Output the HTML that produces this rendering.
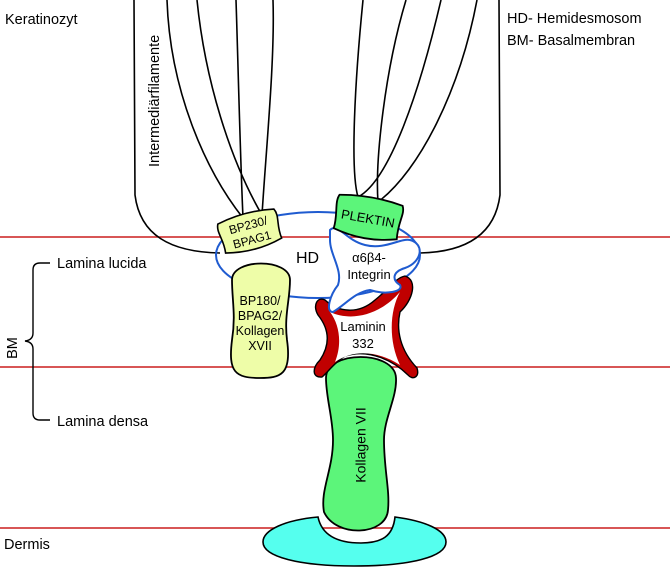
<!DOCTYPE html>
<html><head><meta charset="utf-8"><style>
html,body{margin:0;padding:0;background:#fff;}
svg{display:block;font-family:"Liberation Sans",Arial,sans-serif;}
</style></head><body>
<svg width="670" height="568" viewBox="0 0 670 568" xmlns="http://www.w3.org/2000/svg">
<g stroke="#cc1f1f" stroke-width="1.6">
<line x1="0" y1="237" x2="670" y2="237"/>
<line x1="0" y1="367" x2="670" y2="367"/>
<line x1="0" y1="528" x2="670" y2="528"/>
</g>
<g fill="none" stroke="#000" stroke-width="1.6">
<path d="M134,0 L135,195 C140,235 170,252 220,253"/>
<path d="M499,0 L500,195 C495,235 465,252 420,253"/>
<path d="M167,0 C170,90 205,170 243,218 C240,150 238,60 236,0"/>
<path d="M197,0 C205,80 230,160 262,215 C266,150 275,60 273,0"/>
<path d="M363,0 C355,80 350,170 358,197 C390,180 420,90 441,0"/>
<path d="M406,0 C385,70 375,160 378,202 C420,170 460,90 477,0"/>
</g>
<ellipse cx="318" cy="255" rx="102" ry="43" fill="none" stroke="#1f5bd0" stroke-width="2"/>
<!-- Dermis -->
<path d="M318,517 C285,520 263,530 263,542 C263,557 300,566 354,566 C410,566 446,557 446,542 C446,530 425,521 395,517 C393,536 382,543 361,543 C338,543 322,536 318,517 Z" fill="#55ffee" stroke="#000" stroke-width="1.6"/>
<!-- Kollagen VII -->
<path d="M326,378 C326,350 395,350 396,378 C397,398 384,418 384,440 C384,470 390,490 388,510 C386,536 336,538 324,512 C320,490 333,470 333,440 C333,418 326,398 326,378 Z" fill="#5cf57a" stroke="#000" stroke-width="1.8"/>
<text transform="translate(362,445) rotate(-90)" font-size="14" text-anchor="middle" dominant-baseline="middle">Kollagen VII</text>
<!-- Laminin -->
<path d="M405,276 C418,280 413,300 400,312 C396,330 400,350 417,368 C420,378 412,380 408,375 C395,362 370,348 345,356 C335,362 328,372 322,377 C312,378 312,368 320,360 C330,345 330,330 318,315 C312,305 318,296 325,300 C338,312 358,315 375,300 C388,290 395,278 405,276 Z" fill="#c00000" stroke="#000" stroke-width="1.4"/>
<path d="M400,292 C390,310 388,340 400,365 C380,352 355,348 335,362 C342,345 340,325 330,312 C352,322 380,315 400,292 Z" fill="#fff"/>
<text x="363" y="331" font-size="13" text-anchor="middle">Laminin</text>
<text x="363" y="348" font-size="13" text-anchor="middle">332</text>
<!-- Integrin -->
<path d="M330,230 C338,222 345,240 365,245 C385,250 400,238 410,240 C425,244 422,262 405,268 C392,272 392,280 400,285 C404,292 385,295 370,290 C355,292 345,305 333,312 C325,312 330,295 338,285 C343,270 330,255 330,240 Z" fill="#fff" stroke="#1f5bd0" stroke-width="2"/>
<text x="369" y="262" font-size="13" text-anchor="middle">α6β4-</text>
<text x="369" y="279" font-size="13" text-anchor="middle">Integrin</text>
<g transform="translate(368,218) rotate(10)">
<path d="M-32,-18 C-10,-22 10,-22 32,-18 C36,-10 30,-2 32,16 C10,22 -10,22 -32,16 C-30,2 -36,-10 -32,-18 Z" fill="#5cf57a" stroke="#000" stroke-width="1.8"/>
<text x="0" y="5" font-size="13" text-anchor="middle">PLEKTIN</text>
</g>
<g transform="translate(250,232) rotate(-15)">
<path d="M-29,-16 C-10,-20 10,-20 29,-16 C33,-8 27,0 29,14 C10,19 -10,19 -29,14 C-27,0 -33,-8 -29,-16 Z" fill="#eefda8" stroke="#000" stroke-width="1.6"/>
<text x="0" y="-3" font-size="12" text-anchor="middle">BP230/</text>
<text x="0" y="12" font-size="12" text-anchor="middle">BPAG1</text>
</g>
<path d="M232,280 C232,258 290,258 290,280 C290,300 284,315 287,340 C292,375 280,378 260,378 C235,378 228,372 232,340 C236,315 232,300 232,280 Z" fill="#eefda8" stroke="#000" stroke-width="1.8"/>
<g font-size="12.5" text-anchor="middle">
<text x="260" y="305">BP180/</text>
<text x="260" y="320">BPAG2/</text>
<text x="260" y="335">Kollagen</text>
<text x="260" y="350">XVII</text>
</g>
<path d="M50,263 L40,263 Q33,263 33,270 L33,333 Q33,340 25,341 Q33,342 33,349 L33,413 Q33,420 40,420 L50,420" fill="none" stroke="#000" stroke-width="1.4"/>
<g font-size="14.5">
<text x="5" y="24">Keratinozyt</text>
<text x="507" y="23">HD- Hemidesmosom</text>
<text x="507" y="45">BM- Basalmembran</text>
<text x="57" y="268">Lamina lucida</text>
<text x="57" y="426">Lamina densa</text>
<text x="4" y="549">Dermis</text>
<text x="296" y="263" font-size="16">HD</text>
<text transform="translate(159,167) rotate(-90)">Intermediärfilamente</text>
<text transform="translate(17,348) rotate(-90)" text-anchor="middle">BM</text>
</g>
</svg>
</body></html>
